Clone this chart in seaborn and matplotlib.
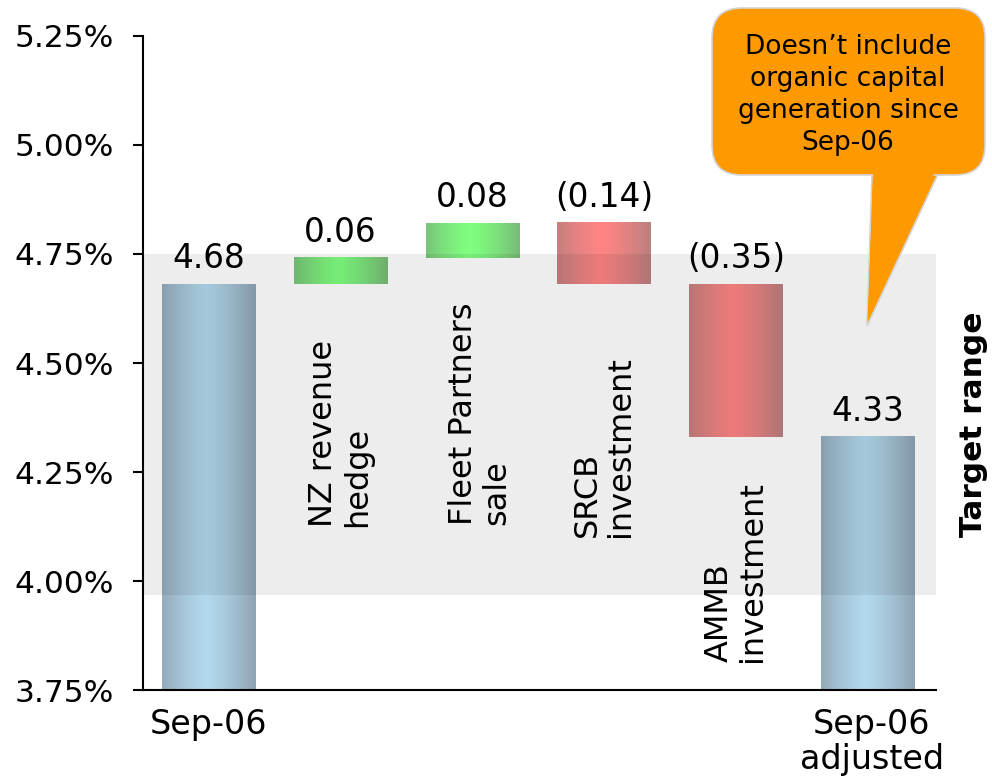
import numpy as np
import pandas as pd
import matplotlib.pyplot as plt
import seaborn as sns
from matplotlib.patches import FancyBboxPatch, Polygon
from matplotlib.ticker import FuncFormatter

# Style
sns.set_theme(style="white")
plt.rcParams['font.family'] = ['DejaVu Sans']
plt.rcParams['text.color'] = 'black'
plt.rcParams['xtick.color'] = 'black'
plt.rcParams['ytick.color'] = 'black'
plt.rcParams['axes.labelcolor'] = 'black'

# Data
categories = ["Sep-06", "NZ revenue\nhedge", "Fleet Partners\nsale",
              "SRCB\ninvestment", "AMMB\ninvestment", "Sep-06\nadjusted"]
steps = [4.68, 0.06, 0.08, -0.14, -0.35, 4.33]
is_total = [True, False, False, False, False, True]
value_labels = ["4.68", "0.06", "0.08", "(0.14)", "(0.35)", "4.33"]
tick_labels = ["Sep-06", "Sep-06\nadjusted"]
inner_label_y = [None, 4.124, 4.128, 4.101, 3.814, None]
target_low, target_high = 3.968, 4.75

# running totals -> floating bars
bottoms, heights, tops = [], [], []
level = 0.0
for s, tot in zip(steps, is_total):
    if tot:
        bottoms.append(0.0)
        heights.append(s)
        tops.append(s)
        level = s
    else:
        new = level + s
        bottoms.append(min(level, new))
        heights.append(abs(s))
        tops.append(max(level, new))
        level = new

df = pd.DataFrame({"step": categories, "height": heights})

# gradient colours (centre, edge)
grad = {
    "total": ((0.70, 0.85, 0.93), (0.56, 0.64, 0.70)),
    "up": ((0.50, 1.00, 0.50), (0.47, 0.73, 0.47)),
    "down": ((1.00, 0.52, 0.52), (0.73, 0.50, 0.50)),
}

fig, ax = plt.subplots(figsize=(9.92, 7.79), dpi=100)
fig.subplots_adjust(left=0.144, right=0.944, bottom=0.114, top=0.954)

sns.barplot(data=df, x="step", y="height", bottom=bottoms, width=0.71,
            errorbar=None, color="#B0D8EE", linewidth=0, ax=ax, zorder=2)

# horizontal gradient fill on every bar
t = np.linspace(0, 1, 200)
light = 1 - (np.abs(t - 0.47) / 0.53) ** 1.3
for i, p in enumerate(ax.patches):
    kind = "total" if is_total[i] else ("up" if steps[i] > 0 else "down")
    c, e = np.array(grad[kind][0]), np.array(grad[kind][1])
    img = (e[None, :] + (c - e)[None, :] * light[:, None])[None, :, :]
    x0, w, y0, h = p.get_x(), p.get_width(), p.get_y(), p.get_height()
    ax.imshow(img, extent=[x0, x0 + w, y0, y0 + h], aspect="auto",
              interpolation="bilinear", zorder=2)
    p.set_visible(False)

# target range band (drawn over bars)
ax.axhspan(target_low, target_high, color="black", alpha=0.07, lw=0, zorder=3)

# value labels
for i, (lab, top) in enumerate(zip(value_labels, tops)):
    ax.annotate(lab, (i, top), xytext=(0, 12), textcoords="offset points",
                ha="center", va="baseline", fontsize=23.5, zorder=5)

# rotated labels inside the chart
for i, yy in enumerate(inner_label_y):
    if yy is None:
        continue
    xx = i + (0.06 if i == 2 else 0.0)
    ax.text(xx, yy, categories[i], rotation=90, ha="center", va="bottom",
            multialignment="left", fontsize=23, linespacing=1.1, zorder=5)

ax.set_xlim(-0.5, 5.52)
ax.set_ylim(3.75, 5.25)
ax.set_yticks(np.arange(3.75, 5.26, 0.25))
ax.yaxis.set_major_formatter(FuncFormatter(lambda v, _: f"{v:.2f}%"))
ax.set_xticks([0, 5.03])
ax.set_xticklabels(tick_labels, fontsize=24, linespacing=1.05)
ax.set_xlabel("")
ax.set_ylabel("")
ax.tick_params(axis="y", labelsize=22.5, length=7, width=1.5, pad=14,
               direction="out", left=True, color="black")
ax.tick_params(axis="x", length=0, pad=13)
for s in ["top", "right"]:
    ax.spines[s].set_visible(False)
for s in ["left", "bottom"]:
    ax.spines[s].set_color("black")
    ax.spines[s].set_linewidth(1.5)

ax.text(5.80, (target_low + target_high) / 2, "Target range", rotation=90,
        ha="center", va="center", fontsize=22.5, fontweight="bold", clip_on=False)

# callout bubble (figure pixel coords)
W, H = 992, 779
fx = lambda px: px / W
fy = lambda py: 1 - py / H
orange = "#FF9900"
edge = "#D4D4D4"
tail = [(fx(872), fy(174)), (fx(938), fy(174)), (fx(867), fy(326))]
fig.patches.append(Polygon(tail, closed=True, facecolor=orange, edgecolor=edge,
                           lw=1.2, transform=fig.transFigure, zorder=5))
box = FancyBboxPatch((fx(712), fy(175)), (985 - 712) / W, (175 - 8) / H,
                     boxstyle="round,pad=0,rounding_size=0.03",
                     mutation_aspect=W / H, facecolor=orange, edgecolor=edge,
                     lw=1.2, transform=fig.transFigure, zorder=6)
fig.patches.append(box)
cover = [(fx(873.5), fy(168)), (fx(936.5), fy(168)), (fx(867.5), fy(322))]
fig.patches.append(Polygon(cover, closed=True, facecolor=orange, edgecolor="none",
                           transform=fig.transFigure, zorder=7))
fig.text(fx(848), fy(95), "Doesn\u2019t include\norganic capital\ngeneration since\nSep-06",
         ha="center", va="center", fontsize=19, linespacing=1.3, zorder=8)

plt.savefig("out.png", dpi=100)
